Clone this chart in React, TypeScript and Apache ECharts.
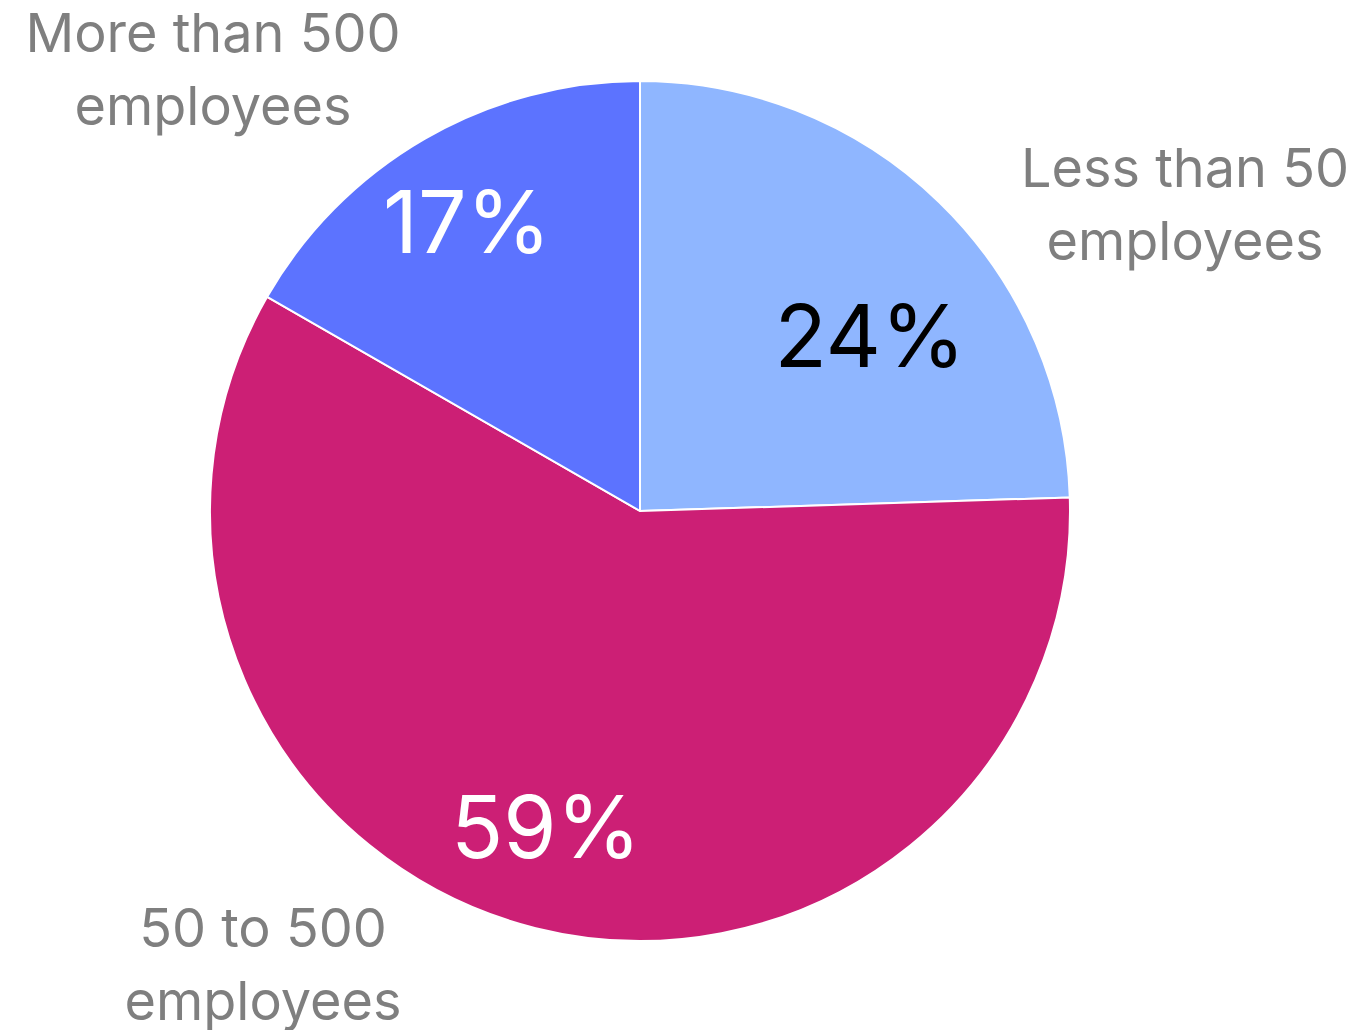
import React, { useEffect, useRef } from "react";
import * as echarts from "echarts";

const categories = ["Less than 50\nemployees", "50 to 500\nemployees", "More than 500\nemployees"];
const values = [24.5, 58.8, 16.7];
const pctLabels = ["24%", "59%", "17%"];
const colors = ["#8FB6FF", "#CC1F75", "#5C73FF"];
const pctColors = ["#000000", "#FFFFFF", "#FFFFFF"];

// label anchor positions (layout only)
const pctPos = [[870, 336], [546, 827], [467, 222]];
const namePos = [[1185, 204], [263, 964], [213, 69]];

export default function App() {
  const ref = useRef<HTMLDivElement>(null);
  useEffect(() => {
    const chart = echarts.init(ref.current!, null, { renderer: "svg" });
    const data = categories.map((c, i) => ({ name: c, value: values[i], itemStyle: { color: colors[i] } }));
    chart.setOption({
      animation: false,
      series: [
        {
          type: "pie",
          center: [640, 511],
          radius: [0, 430],
          startAngle: 90,
          clockwise: true,
          silent: true,
          itemStyle: { borderColor: "#FFFFFF", borderWidth: 2 },
          data: data.map((d, i) => ({
            ...d,
            label: { color: pctColors[i] },
          })),
          label: {
            show: true,
            position: "inside",
            fontFamily: "Inter",
            fontSize: 86,
            overflow: "none",
            formatter: (p: any) => pctLabels[p.dataIndex],
          },
          labelLine: { show: false },
          labelLayout: (p: any) => ({
            x: pctPos[p.dataIndex][0],
            y: pctPos[p.dataIndex][1],
            align: "center",
            verticalAlign: "middle",
          }),
        },
        {
          type: "pie",
          center: [640, 511],
          radius: [0, 430],
          startAngle: 90,
          clockwise: true,
          silent: true,
          itemStyle: { color: "rgba(0,0,0,0)", borderWidth: 0 },
          data: categories.map((c, i) => ({ name: c, value: values[i] })),
          label: {
            show: true,
            position: "outside",
            fontFamily: "Inter",
            fontSize: 54,
            lineHeight: 73,
            color: "#7F7F7F",
            align: "center",
            overflow: "none",
            width: 600,
            formatter: (p: any) => p.name,
          },
          labelLine: { show: false },
          labelLayout: (p: any) => ({
            x: namePos[p.dataIndex][0],
            y: namePos[p.dataIndex][1],
            align: "center",
            verticalAlign: "middle",
          }),
        },
      ],
    });
    return () => chart.dispose();
  }, []);
  return (
    <div
      ref={ref}
      style={{ position: "absolute", left: 0, top: 0, width: 1361, height: 1030, background: "#FFFFFF" }}
    />
  );
}
